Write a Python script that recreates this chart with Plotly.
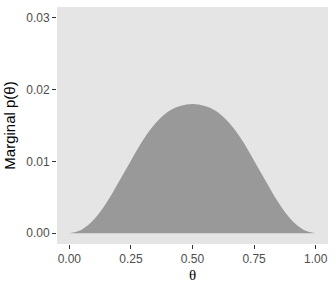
import plotly.graph_objects as go

theta = [0.0, 0.05, 0.10, 0.15, 0.20, 0.25, 0.30, 0.35, 0.40, 0.45, 0.50,
         0.55, 0.60, 0.65, 0.70, 0.75, 0.80, 0.85, 0.90, 0.95, 1.0]
marginal = [0.0, 0.0005, 0.0019, 0.0042, 0.0071, 0.0101, 0.0130, 0.0153, 0.0169, 0.0177, 0.0180,
            0.0177, 0.0169, 0.0153, 0.0130, 0.0101, 0.0071, 0.0042, 0.0019, 0.0005, 0.0]

x_ticks = [0.0, 0.25, 0.5, 0.75, 1.0]
x_labels = ["0.00", "0.25", "0.50", "0.75", "1.00"]
y_ticks = [0.0, 0.01, 0.02, 0.03]
y_labels = ["0.00", "0.01", "0.02", "0.03"]

fig = go.Figure()
fig.add_trace(go.Scatter(
    x=theta, y=marginal, mode="lines", line=dict(width=0, shape="spline", smoothing=1.0),
    fill="tozeroy", fillcolor="#999999", hoverinfo="skip", showlegend=False))

font_family = "Liberation Sans, Arial, sans-serif"
fig.update_layout(
    width=336, height=288,
    margin=dict(l=57, r=8, t=7, b=42),
    paper_bgcolor="white", plot_bgcolor="#E5E5E5",
    font=dict(family=font_family, size=12, color="#4D4D4D"),
    xaxis=dict(range=[-0.05, 1.05], tickvals=x_ticks, ticktext=x_labels,
               showgrid=False, zeroline=False, ticks="outside", ticklen=4,
               tickcolor="#333333", tickwidth=1,
               tickfont=dict(size=12, color="#4D4D4D"),
               title=dict(text="θ", font=dict(size=15, color="black", family="Liberation Serif, serif"), standoff=4)),
    yaxis=dict(range=[-0.0015, 0.0315], tickvals=y_ticks, ticktext=y_labels,
               showgrid=False, zeroline=False, ticks="outside", ticklen=4,
               tickcolor="#333333", tickwidth=1,
               tickfont=dict(size=12, color="#4D4D4D"),
               title=dict(text="Marginal p(θ)", font=dict(size=15, color="black"), standoff=6)),
)

fig.write_html("out.html")
